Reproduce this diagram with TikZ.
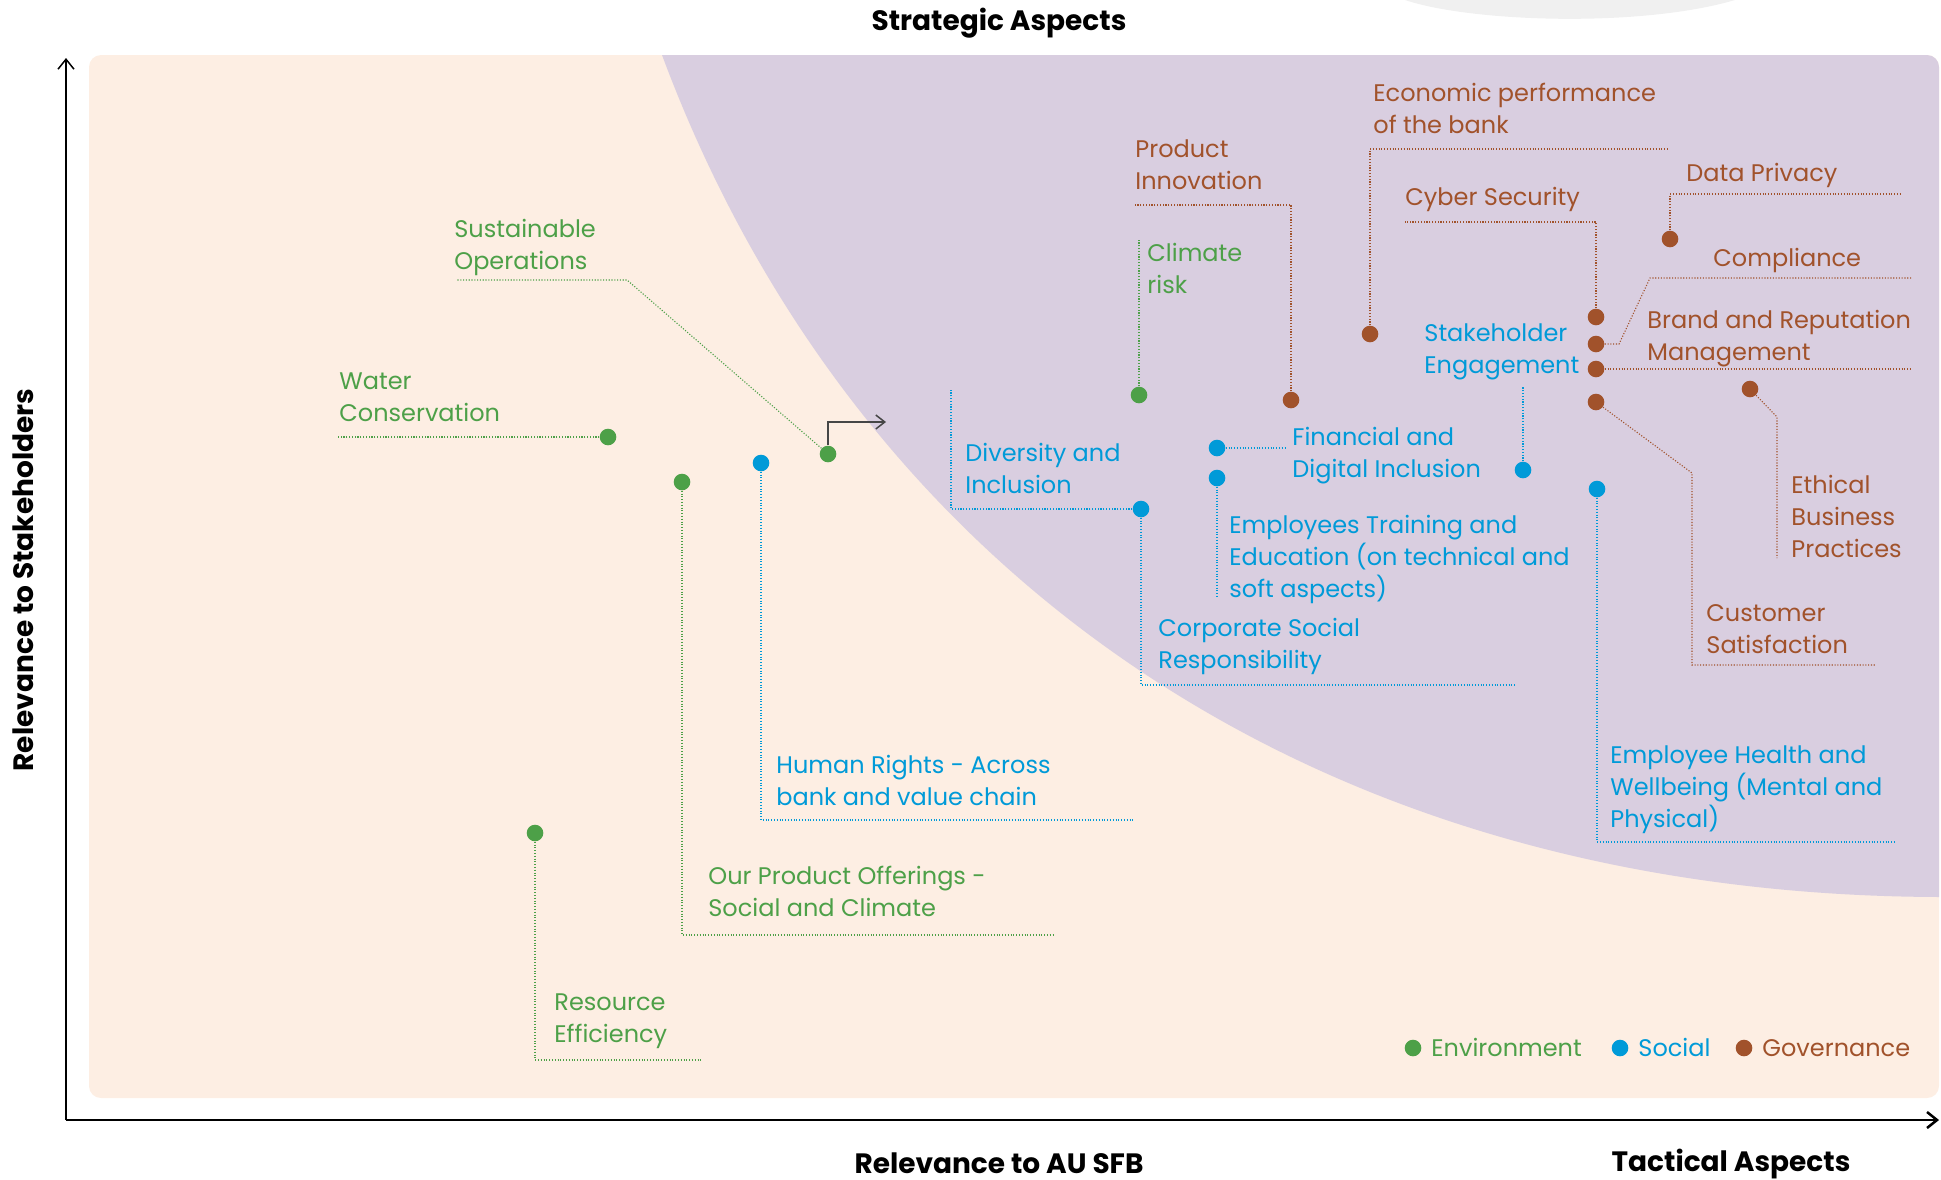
\documentclass[tikz,border=0pt]{standalone}
\usepackage{fontspec}
\setmainfont{Poppins}
\usetikzlibrary{arrows.meta}

\definecolor{panelc}{RGB}{253,238,227}
\definecolor{zonec}{RGB}{217,206,224}
\definecolor{envc}{RGB}{77,160,72}
\definecolor{socc}{RGB}{0,154,216}
\definecolor{govc}{RGB}{161,82,43}
\definecolor{arrowc}{RGB}{70,70,70}
\definecolor{swooshc}{RGB}{240,240,240}

% multi-line label whose baseline is the first line
\newcommand{\lab}[1]{\begin{tabular}[t]{@{}l@{}}#1\end{tabular}}

\begin{document}
\begin{tikzpicture}[x=0.5pt,y=-0.5pt,
  dotbase/.style={circle,inner sep=0pt,minimum size=8.3pt},
  dotE/.style={dotbase,fill=envc},
  dotS/.style={dotbase,fill=socc},
  dotG/.style={dotbase,fill=govc},
  lbl/.style={anchor=base west,inner sep=0pt,font=\fontsize{12}{16}\selectfont},
  lblE/.style={lbl,text=envc},
  lblS/.style={lbl,text=socc},
  lblG/.style={lbl,text=govc},
  lead/.style={line width=0.55pt,dash pattern=on 0.55pt off 0.85pt},
  leadE/.style={lead,draw=envc},
  leadS/.style={lead,draw=socc},
  leadG/.style={lead,draw=govc},
  ttl/.style={inner sep=0pt,anchor=base,font=\fontsize{14}{16}\selectfont\bfseries},
  axisline/.style={draw=black,-{Straight Barb[length=5pt,width=8pt]}}
]
\useasboundingbox (0,0) rectangle (1941,1179);

% faint swoosh at the top edge
\fill[swooshc] (1405,0) .. controls (1470,22) and (1640,28) .. (1735,0) -- cycle;

% background panel and the strategic zone
\fill[panelc,rounded corners=6pt] (89,55) rectangle (1939,1098);
\begin{scope}
  \clip[rounded corners=6pt] (89,55) rectangle (1939,1098);
  \fill[zonec] (662,55) -- (1945,50) -- (1945,897)
     .. controls (1300,897) and (850,560) .. (662,55) -- cycle;
\end{scope}

% axes
\coordinate (O) at (66,1120);
\coordinate (yT) at (66,58);
\coordinate (xT) at (1939,1120);
\draw[axisline,line width=0.75pt] (O) -- (yT);
\draw[axisline,line width=1.25pt] (O) -- (xT);

% axis titles
\node[ttl] (tS) at (999,30) {Strategic Aspects};
\node[ttl] (tX) at (999,1173) {Relevance to AU SFB};
\node[ttl] (tT) at (1731,1171) {Tactical Aspects};
\node[ttl,rotate=90] (tY) at (33,580) {Relevance to Stakeholders};

% ---- environment topics
\node[dotE] (wc) at (608,437) {};
\node[dotE] (po) at (682,482) {};
\node[dotE] (so) at (828,454) {};
\node[dotE] (re) at (535,833) {};
\node[dotE] (cr) at (1139,395) {};

% ---- social topics
\node[dotS] (hr) at (761,463) {};
\node[dotS] (di) at (1141,509) {};
\node[dotS] (fd) at (1217,448) {};
\node[dotS] (et) at (1217,478) {};
\node[dotS] (se) at (1523,470) {};
\node[dotS] (eh) at (1597,489) {};

% ---- governance topics
\node[dotG] (ep) at (1370,334) {};
\node[dotG] (pi) at (1291,400) {};
\node[dotG] (dp) at (1670,239) {};
\node[dotG] (cs) at (1596,317) {};
\node[dotG] (co) at (1596,344) {};
\node[dotG] (br) at (1596,369) {};
\node[dotG] (cu) at (1596,402) {};
\node[dotG] (eb) at (1750,389) {};

% labels
\node[lblE] (wcL) at (339,389) {\lab{Water\\Conservation}};
\node[lblE] (soL) at (454,237) {\lab{Sustainable\\Operations}};
\node[lblE] (reL) at (554,1010) {\lab{Resource\\Efficiency}};
\node[lblE] (poL) at (708,884) {\lab{Our Product Offerings -\\Social and Climate}};
\node[lblE] (crL) at (1147,261) {\lab{Climate\\risk}};

\node[lblS] (hrL) at (776,773) {\lab{Human Rights - Across\\bank and value chain}};
\node[lblS] (diL) at (965,461) {\lab{Diversity and\\Inclusion}};
\node[lblS] (csrL) at (1158,636) {\lab{Corporate Social\\Responsibility}};
\node[lblS] (fdL) at (1292,445) {\lab{Financial and\\Digital Inclusion}};
\node[lblS] (etL) at (1229,533) {\lab{Employees Training and\\Education (on technical and\\soft aspects)}};
\node[lblS] (seL) at (1424,341) {\lab{Stakeholder\\Engagement}};
\node[lblS] (ehL) at (1610,763) {\lab{Employee Health and\\Wellbeing (Mental and\\Physical)}};

\node[lblG] (epL) at (1373,101) {\lab{Economic performance\\of the bank}};
\node[lblG] (piL) at (1135,157) {\lab{Product\\Innovation}};
\node[lblG] (dpL) at (1686,181) {Data Privacy};
\node[lblG] (csL) at (1405,205) {Cyber Security};
\node[lblG] (coL) at (1713,266) {Compliance};
\node[lblG] (brL) at (1647,328) {\lab{Brand and Reputation\\Management}};
\node[lblG] (cuL) at (1706,621) {\lab{Customer\\Satisfaction}};
\node[lblG] (ebL) at (1791,493) {\lab{Ethical\\Business\\Practices}};

% leader line end points
\coordinate (wcE) at (338,437);
\coordinate (soA) at (627,280);
\coordinate (soE) at (456,280);
\coordinate (reE) at (701,1060);
\coordinate (poE) at (1055,935);
\coordinate (crE) at (1139,240);
\coordinate (hrE) at (1135,820);
\coordinate (diE) at (951,390);
\coordinate (csrE) at (1516,685);
\coordinate (fdE) at (1285,448);
\coordinate (etE) at (1217,597);
\coordinate (seE) at (1523,386);
\coordinate (ehE) at (1896,842);
\coordinate (epE) at (1667,149);
\coordinate (piE) at (1133,205);
\coordinate (dpE) at (1901,194);
\coordinate (csE) at (1405,222);
\coordinate (coA) at (1619,344);
\coordinate (coB) at (1650,278);
\coordinate (coE) at (1912,278);
\coordinate (brE) at (1912,369);
\coordinate (cuA) at (1692,473);
\coordinate (cuE) at (1875,665);
\coordinate (ebA) at (1777,417);
\coordinate (ebE) at (1777,558);
\coordinate (arrE) at (886,422);

% leader lines
\draw[leadE] (wc) -- (wcE);
\draw[leadE] (so) -- (soA) -- (soE);
\draw[leadE] (re) |- (reE);
\draw[leadE] (po) |- (poE);
\draw[leadE] (cr) -- (crE);

\draw[leadS] (hr) |- (hrE);
\draw[leadS] (di) -| (diE);
\draw[leadS] (di) |- (csrE);
\draw[leadS] (fd) -- (fdE);
\draw[leadS] (et) -- (etE);
\draw[leadS] (se) -- (seE);
\draw[leadS] (eh) |- (ehE);

\draw[leadG] (ep) |- (epE);
\draw[leadG] (pi) |- (piE);
\draw[leadG] (dp) |- (dpE);
\draw[leadG] (cs) |- (csE);
\draw[leadG] (co) -- (coA) -- (coB) -- (coE);
\draw[leadG] (br) -- (brE);
\draw[leadG] (cu) -- (cuA) |- (cuE);
\draw[leadG] (eb) -- (ebA) -- (ebE);

% pointer towards the strategic zone
\draw[draw=arrowc,line width=0.75pt,-{Straight Barb[length=4.5pt,width=7pt]}] (so) |- (arrE);

% legend
\node[dotE] (lgE) at (1413,1048) {};
\node[dotS] (lgS) at (1620,1048) {};
\node[dotG] (lgG) at (1744,1048) {};
\node[lblE] (lgEL) at (1431,1056) {Environment};
\node[lblS] (lgSL) at (1638,1056) {Social};
\node[lblG] (lgGL) at (1762,1056) {Governance};
\end{tikzpicture}
\end{document}
